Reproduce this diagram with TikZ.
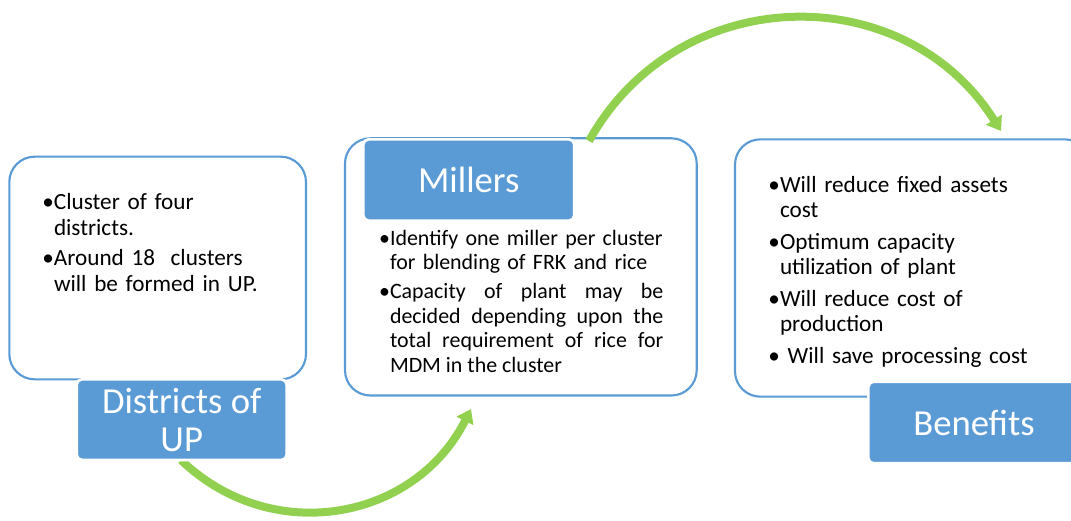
\documentclass[tikz,border=0pt]{standalone}
\usepackage{fontspec}
\setmainfont{Carlito}
\usetikzlibrary{arrows.meta}
\definecolor{boxblue}{HTML}{5B9BD5}
\definecolor{arrgreen}{HTML}{92D050}
\newcommand{\bulletmark}{\leavevmode\llap{•}}
\begin{document}
\begin{tikzpicture}[x=0.75pt,y=-0.75pt,
  outerbox/.style={draw=boxblue, line width=1.6pt, rounded corners=19pt, fill=white, inner sep=0pt, outer sep=0pt},
  labelbox/.style={fill=boxblue, draw=white, line width=2pt, rounded corners=4pt, text=white,
    font=\fontsize{27.5pt}{28.3pt}\selectfont, align=center, inner sep=0pt, outer sep=0pt},
  flow/.style={draw=arrgreen, line width=6pt, -{Triangle[length=10pt,width=13.5pt]}},
  bullets/.style={anchor=base west, inner sep=0pt, outer sep=0pt, text=black}
]
\useasboundingbox (0,0) rectangle (1071,521);

% outer boxes
\node[outerbox, minimum width=222.5pt, minimum height=167pt] (box1) at (157.65,268) {};
\node[outerbox, minimum width=263.8pt, minimum height=192.9pt] (box2) at (520.85,266.9) {};
\node[outerbox, minimum width=266.25pt, minimum height=193pt] (box3) at (912.5,268) {};

% connectors
\coordinate (a1s) at (181,460);
\coordinate (a1e) at (471,409);
\coordinate (a2s) at (589,141);
\coordinate (a2e) at (1001,131);
\draw[flow] (a1s) .. controls (271.9,547.2) and (414.7,520.7) .. (a1e);
\draw[flow] (a2s) .. controls (677.3,-18.3) and (903.1,-23.8) .. (a2e);

% labels
\node[labelbox, minimum width=157.5pt, minimum height=60.5pt] (lab1) at (181.7,419.65) {Districts of\\UP};
\node[labelbox, minimum width=158.25pt, minimum height=61pt] (lab2) at (468.8,180) {Millers};
\node[labelbox, minimum width=158.5pt, minimum height=61.2pt] (lab3) at (974,422.5) {Benefits};

% bullet texts
\node[bullets, text width=180pt, font=\fontsize{17.4pt}{19.5pt}\selectfont] (t1) at (54,209.3)
{\raggedright\setlength{\parskip}{3pt}%
\bulletmark Cluster of four\newline districts.\par
\bulletmark Around 18\ \ clusters\newline will be formed in UP.};

\node[bullets, text width=205pt, font=\fontsize{16.45pt}{18.4pt}\selectfont] (t2) at (390,245)
{\setlength{\parskip}{3.4pt}%
{\raggedright\bulletmark\mbox{Identify one miller per cluster}\newline for blending of FRK and rice\par}
{\leftskip=0pt\relax\rightskip=0pt\relax\spaceskip=0pt\relax\xspaceskip=0pt\relax
\parfillskip=0pt plus 1fil\relax
\bulletmark Capacity of plant may be\linebreak decided depending upon the\linebreak total requirement of rice for\linebreak MDM in the cluster\par}};

\node[bullets, text width=240pt, font=\fontsize{17.4pt}{18.75pt}\selectfont] (t3) at (780,192.3)
{\raggedright\setlength{\parskip}{5.25pt}%
\bulletmark Will reduce fixed assets\newline cost\par
\bulletmark Optimum capacity\newline utilization of plant\par
\bulletmark Will reduce cost of\newline production\par
\bulletmark\ Will save processing cost};
\end{tikzpicture}
\end{document}
